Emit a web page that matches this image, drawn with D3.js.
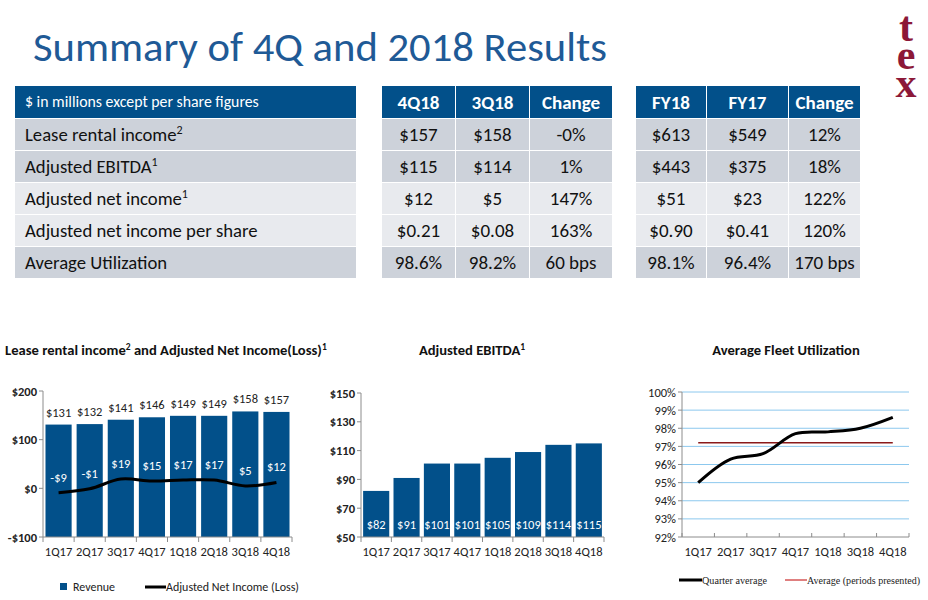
<!DOCTYPE html>
<html>
<head>
<meta charset="utf-8">
<script src="https://cdn.jsdelivr.net/npm/d3@7"></script>
<style>
  body { margin: 0; background: #fff; }
  svg { display: block; font-family: Carlito, Lato, "Open Sans", sans-serif; }
</style>
</head>
<body>
<div id="slide"></div>
<script>
// Summary table
const rowLabels = ["Lease rental income", "Adjusted EBITDA", "Adjusted net income", "Adjusted net income per share", "Average Utilization"];
const rowNotes = ["2", "1", "1", "", ""];
const quarterHeads = ["4Q18", "3Q18", "Change"];
const quarterValues = [
  ["$157", "$158", "-0%"],
  ["$115", "$114", "1%"],
  ["$12", "$5", "147%"],
  ["$0.21", "$0.08", "163%"],
  ["98.6%", "98.2%", "60 bps"]
];
const yearHeads = ["FY18", "FY17", "Change"];
const yearValues = [
  ["$613", "$549", "12%"],
  ["$443", "$375", "18%"],
  ["$51", "$23", "122%"],
  ["$0.90", "$0.41", "120%"],
  ["98.1%", "96.4%", "170 bps"]
];

// Charts
const quarters = ["1Q17", "2Q17", "3Q17", "4Q17", "1Q18", "2Q18", "3Q18", "4Q18"];
const leaseRental = [131, 132, 141, 146, 149, 149, 158, 157];
const netIncome = [-9, -1, 19, 15, 17, 17, 5, 12];
const ebitda = [82, 91, 101, 101, 105, 109, 114, 115];
const revenueTicks = [-100, 0, 100, 200];
const ebitdaTicks = [50, 70, 90, 110, 130, 150];

const utilQuarters = ["1Q17", "2Q17", "3Q17", "4Q17", "1Q18", "3Q18", "4Q18"];
const utilization = [95.0, 96.3, 96.6, 97.7, 97.8, 98.0, 98.6];
const utilAverage = 97.2;
const utilTicks = [92, 93, 94, 95, 96, 97, 98, 99, 100];

const blue = "#02508a";
const titleBlue = "#1f5a96";
const axisGray = "#8c8c8c";
const money = v => (v < 0 ? "-$" : "$") + Math.abs(v);

const svg = d3.select("#slide").append("svg")
    .attr("width", 928)
    .attr("height", 600);

// Header title and logo
svg.append("text")
    .attr("x", 33).attr("y", 61)
    .attr("font-size", 40)
    .attr("fill", titleBlue)
    .attr("textLength", 574)
    .attr("lengthAdjust", "spacingAndGlyphs")
    .text("Summary of 4Q and 2018 Results");

// logo letters stacked top to bottom in one text
svg.append("text")
    .attr("x", 906).attr("y", 4)
    .attr("font-family", "'Liberation Serif', 'DejaVu Serif', serif")
    .attr("font-weight", "bold")
    .attr("font-size", 42)
    .attr("fill", "#8c1838")
    .style("writing-mode", "vertical-rl")
    .style("text-orientation", "upright")
    .style("letter-spacing", "-18px")
    .text("tex");

// Table
const headTop = 86, headH = 32, rowH = 32;
const rowFill = ["#cdd2da", "#cdd2da", "#e8eaee", "#e8eaee", "#cdd2da"];

function drawTable(cols, heads, values) {
  const g = svg.append("g");
  cols.forEach((c, j) => {
    g.append("rect")
        .attr("x", c[0]).attr("y", headTop)
        .attr("width", c[1] - c[0]).attr("height", headH)
        .attr("fill", blue);
    if (heads)
      g.append("text")
          .attr("x", (c[0] + c[1]) / 2).attr("y", headTop + 23)
          .attr("text-anchor", "middle")
          .attr("font-size", 19).attr("font-weight", "bold")
          .attr("fill", "#fff")
          .text(heads[j]);
    values.forEach((row, i) => {
      const y = headTop + headH + i * rowH;
      g.append("rect")
          .attr("x", c[0]).attr("y", y + 1)
          .attr("width", c[1] - c[0]).attr("height", rowH - 1)
          .attr("fill", rowFill[i]);
      if (heads)
        g.append("text")
            .attr("x", (c[0] + c[1]) / 2).attr("y", y + 23)
            .attr("text-anchor", "middle")
            .attr("font-size", 19)
            .attr("fill", "#111")
            .text(row[j]);
    });
  });
  return g;
}

const labelTable = drawTable([[15, 356]], null, rowLabels);
labelTable.append("text")
    .attr("x", 25).attr("y", headTop + 21)
    .attr("font-size", 15.8)
    .attr("fill", "#fff")
    .text("$ in millions except per share figures");
rowLabels.forEach((lab, i) => {
  const t = labelTable.append("text")
      .attr("x", 25).attr("y", headTop + headH + i * rowH + 23)
      .attr("font-size", 18.7)
      .attr("fill", "#111")
      .text(lab);
  if (rowNotes[i])
    t.append("tspan").attr("dy", -7).attr("font-size", 12).text(rowNotes[i]);
});

drawTable([[382, 455], [456, 529], [530, 612]], quarterHeads, quarterValues);
drawTable([[636, 706], [707, 788], [789, 860]], yearHeads, yearValues);

// Shared axis helpers
function yAxis(g, y, x0, ticks, fmt, bold) {
  g.append("line")
      .attr("x1", x0).attr("x2", x0)
      .attr("y1", y.range()[0]).attr("y2", y.range()[1])
      .attr("stroke", axisGray);
  g.append("g").selectAll("line").data(ticks).join("line")
      .attr("x1", x0 - 4).attr("x2", x0)
      .attr("y1", d => y(d)).attr("y2", d => y(d))
      .attr("stroke", axisGray);
  g.append("g").selectAll("text").data(ticks).join("text")
      .attr("x", x0 - 6).attr("y", d => y(d) + 4.5)
      .attr("text-anchor", "end")
      .attr("font-size", 12.5)
      .attr("font-weight", bold ? "bold" : "normal")
      .attr("fill", "#222")
      .text(fmt);
}

function xAxis(g, x, yPos, tickDir) {
  const [a, b] = x.range();
  g.append("line")
      .attr("x1", a).attr("x2", b)
      .attr("y1", yPos).attr("y2", yPos)
      .attr("stroke", axisGray);
  const bounds = d3.range(x.domain().length + 1).map(i => a + i * x.step());
  g.append("g").selectAll("line").data(bounds).join("line")
      .attr("x1", d => d).attr("x2", d => d)
      .attr("y1", yPos).attr("y2", yPos + tickDir)
      .attr("stroke", axisGray);
  g.append("g").selectAll("text").data(x.domain()).join("text")
      .attr("x", d => x(d) + x.bandwidth() / 2)
      .attr("y", yPos + 19)
      .attr("text-anchor", "middle")
      .attr("font-size", 12.5)
      .attr("fill", "#222")
      .text(d => d);
}

// parts: [text, isSuperscript]
function chartTitle(g, x, anchor, parts) {
  const t = g.append("text")
      .attr("x", x).attr("y", 355)
      .attr("text-anchor", anchor)
      .attr("font-size", 14.6).attr("font-weight", "bold")
      .attr("fill", "#111");
  let raised = false;
  parts.forEach(([s, sup]) => {
    const dy = sup ? (raised ? 0 : -5) : (raised ? 5 : 0);
    t.append("tspan").attr("dy", dy).attr("font-size", sup ? 9.5 : null).text(s);
    raised = !!sup;
  });
}

// Chart 1: Lease rental income and adjusted net income
{
  const g = svg.append("g");
  const x = d3.scaleBand().domain(quarters).range([43, 292]).paddingInner(0.16).paddingOuter(0.08);
  const y = d3.scaleLinear().domain([-100, 200]).range([537, 391]);

  chartTitle(g, 5, "start", [["Lease rental income"], ["2", true], [" and Adjusted Net Income(Loss)"], ["1", true]]);

  g.append("g").selectAll("rect").data(quarters).join("rect")
      .attr("x", d => x(d))
      .attr("width", x.bandwidth())
      .attr("y", (d, i) => y(leaseRental[i]))
      .attr("height", (d, i) => y(-100) - y(leaseRental[i]))
      .attr("fill", blue);

  g.append("g").selectAll("text").data(quarters).join("text")
      .attr("x", d => x(d) + x.bandwidth() / 2)
      .attr("y", (d, i) => y(leaseRental[i]) - 8)
      .attr("text-anchor", "middle")
      .attr("font-size", 12.5)
      .attr("fill", "#222")
      .text((d, i) => money(leaseRental[i]));

  const line = d3.line()
      .x(d => x(d[0]) + x.bandwidth() / 2)
      .y(d => y(d[1]))
      .curve(d3.curveCatmullRom.alpha(0.5));
  g.append("path")
      .datum(quarters.map((q, i) => [q, netIncome[i]]))
      .attr("d", line)
      .attr("fill", "none")
      .attr("stroke", "#000")
      .attr("stroke-width", 3);

  g.append("g").selectAll("text").data(quarters).join("text")
      .attr("x", d => x(d) + x.bandwidth() / 2)
      .attr("y", (d, i) => y(netIncome[i]) - 11)
      .attr("text-anchor", "middle")
      .attr("font-size", 12.5)
      .attr("fill", "#fff")
      .text((d, i) => money(netIncome[i]));

  yAxis(g, y, 43, revenueTicks, money, true);
  xAxis(g, x, 537, 5);

  g.append("rect").attr("x", 60).attr("y", 583).attr("width", 7).attr("height", 7).attr("fill", blue);
  g.append("text").attr("x", 73).attr("y", 591).attr("font-size", 12).attr("fill", "#222").text("Revenue");
  g.append("line").attr("x1", 145).attr("x2", 166).attr("y1", 587).attr("y2", 587)
      .attr("stroke", "#000").attr("stroke-width", 3);
  g.append("text").attr("x", 166).attr("y", 591).attr("font-size", 12).attr("fill", "#222")
      .attr("textLength", 133).attr("lengthAdjust", "spacingAndGlyphs")
      .text("Adjusted Net Income (Loss)");
}

// Chart 2: Adjusted EBITDA
{
  const g = svg.append("g");
  const x = d3.scaleBand().domain(quarters).range([361, 604]).paddingInner(0.14).paddingOuter(0.07);
  const y = d3.scaleLinear().domain([50, 150]).range([537, 393]);

  chartTitle(g, 472, "middle", [["Adjusted EBITDA"], ["1", true]]);

  g.append("g").selectAll("rect").data(quarters).join("rect")
      .attr("x", d => x(d))
      .attr("width", x.bandwidth())
      .attr("y", (d, i) => y(ebitda[i]))
      .attr("height", (d, i) => y(50) - y(ebitda[i]))
      .attr("fill", blue);

  g.append("g").selectAll("text").data(quarters).join("text")
      .attr("x", d => x(d) + x.bandwidth() / 2)
      .attr("y", 529)
      .attr("text-anchor", "middle")
      .attr("font-size", 12.5)
      .attr("fill", "#fff")
      .text((d, i) => money(ebitda[i]));

  yAxis(g, y, 361, ebitdaTicks, money, true);
  xAxis(g, x, 537, 5);
}

// Chart 3: Average fleet utilization
{
  const g = svg.append("g");
  const x = d3.scaleBand().domain(utilQuarters).range([682, 909]);
  const y = d3.scaleLinear().domain([92, 100]).range([537, 392]);

  chartTitle(g, 786, "middle", [["Average Fleet Utilization"]]);

  g.append("g").selectAll("line").data(utilTicks.slice(1)).join("line")
      .attr("x1", 682).attr("x2", 909)
      .attr("y1", d => y(d)).attr("y2", d => y(d))
      .attr("stroke", "#8cc8ee");

  yAxis(g, y, 682, utilTicks, d => d + "%", false);
  xAxis(g, x, 537, -4);

  const cx = d => x(d) + x.bandwidth() / 2;
  g.append("line")
      .attr("x1", cx(utilQuarters[0])).attr("x2", cx(utilQuarters[utilQuarters.length - 1]))
      .attr("y1", y(utilAverage)).attr("y2", y(utilAverage))
      .attr("stroke", "#8b1a1a").attr("stroke-width", 1.5);

  g.append("path")
      .datum(utilQuarters.map((q, i) => [q, utilization[i]]))
      .attr("d", d3.line().x(d => cx(d[0])).y(d => y(d[1])).curve(d3.curveCatmullRom.alpha(0.5)))
      .attr("fill", "none")
      .attr("stroke", "#000")
      .attr("stroke-width", 3);

  const lg = g.append("g")
      .attr("font-family", "'Liberation Serif', 'DejaVu Serif', serif")
      .attr("font-size", 10.8)
      .attr("fill", "#222");
  lg.append("line").attr("x1", 679).attr("x2", 702).attr("y1", 580).attr("y2", 580)
      .attr("stroke", "#000").attr("stroke-width", 3);
  lg.append("text").attr("x", 702).attr("y", 584)
      .attr("textLength", 65).attr("lengthAdjust", "spacingAndGlyphs")
      .text("Quarter average");
  lg.append("line").attr("x1", 785).attr("x2", 807).attr("y1", 580).attr("y2", 580)
      .attr("stroke", "#c00000").attr("stroke-width", 1);
  lg.append("text").attr("x", 807).attr("y", 584)
      .attr("textLength", 113).attr("lengthAdjust", "spacingAndGlyphs")
      .text("Average (periods presented)");
}
</script>
</body>
</html>
